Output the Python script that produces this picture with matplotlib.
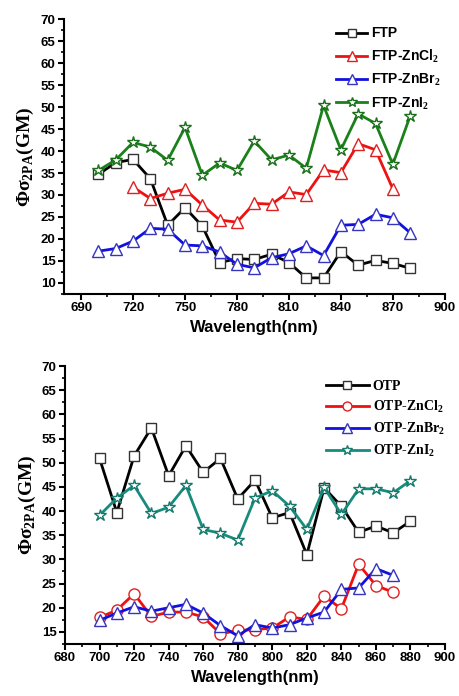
import matplotlib

matplotlib.use("Agg")
import matplotlib.pyplot as plt
from matplotlib.ticker import MultipleLocator

plt.rcParams["mathtext.fontset"] = "custom"
plt.rcParams["mathtext.rm"] = "Liberation Serif"
plt.rcParams["mathtext.bf"] = "Liberation Serif:bold"
plt.rcParams["font.family"] = "Liberation Sans"
plt.rcParams["font.weight"] = "bold"

wl_ftp = [700, 710, 720, 730, 740, 750, 760, 770, 780, 790, 800, 810, 820, 830, 840, 850, 860, 870, 880]
ftp = [34.7, 37.4, 38.1, 33.7, 23.1, 27.1, 22.9, 14.6, 15.5, 15.3, 16.5, 14.6, 11.1, 11.1, 17.1, 14.0, 15.1, 14.4, 13.3]
wl_ftp_cl = [720, 730, 740, 750, 760, 770, 780, 790, 800, 810, 820, 830, 840, 850, 860, 870]
ftp_cl = [31.8, 29.2, 30.4, 31.3, 27.7, 24.3, 23.8, 28.1, 27.9, 30.7, 30.1, 35.7, 35.1, 41.7, 40.3, 31.4]
ftp_br = [17.2, 17.8, 19.5, 22.4, 22.2, 18.6, 18.4, 17.0, 14.2, 13.4, 15.7, 16.6, 18.4, 16.2, 23.1, 23.3, 25.6, 24.8, 21.4]
ftp_i = [35.6, 38.0, 42.0, 40.9, 37.9, 45.4, 34.5, 37.3, 35.6, 42.3, 38.0, 39.1, 36.1, 50.4, 40.3, 48.5, 46.3, 37.0, 48.0]

wl_otp = [700, 710, 720, 730, 740, 750, 760, 770, 780, 790, 800, 810, 820, 830, 840, 850, 860, 870, 880]
otp = [50.9, 39.7, 51.4, 57.2, 47.3, 53.5, 48.0, 50.9, 42.5, 46.4, 38.6, 39.7, 31.0, 44.8, 41.0, 35.6, 36.9, 35.5, 37.9]
wl_otp_zn = [700, 710, 720, 730, 740, 750, 760, 770, 780, 790, 800, 810, 820, 830, 840, 850, 860, 870]
otp_cl = [18.0, 19.5, 22.9, 18.2, 19.1, 19.1, 18.1, 14.6, 15.3, 15.5, 15.8, 18.1, 17.6, 22.4, 19.8, 29.0, 24.6, 23.2]
otp_br = [17.4, 18.9, 20.2, 19.3, 20.0, 20.7, 18.9, 16.3, 14.2, 16.5, 15.8, 16.5, 17.9, 19.1, 23.8, 24.1, 28.1, 26.7]
otp_i = [39.1, 42.7, 45.3, 39.5, 40.8, 45.3, 36.2, 35.4, 34.0, 42.7, 44.2, 41.0, 36.2, 44.9, 39.3, 44.6, 44.6, 43.8, 46.3]

YLABEL = "Φσ$_{\\mathbf{2PA}}$(GM)"


def style_axes(ax, ymin, xmajor, xminor):
    ax.spines["top"].set_visible(False)
    ax.spines["right"].set_visible(False)
    for side in ("left", "bottom"):
        ax.spines[side].set_linewidth(1.5)
    ax.set_xlim(680, 900)
    ax.set_ylim(ymin, 70)
    ax.xaxis.set_major_locator(MultipleLocator(xmajor))
    ax.xaxis.set_minor_locator(MultipleLocator(xminor))
    ax.yaxis.set_major_locator(MultipleLocator(5))
    ax.yaxis.set_minor_locator(MultipleLocator(2.5))
    ax.tick_params(which="major", direction="out", length=4, width=1.5, labelsize=9.5, pad=2)
    ax.tick_params(which="minor", direction="out", length=2.5, width=1.2)
    for lab in ax.get_xticklabels() + ax.get_yticklabels():
        lab.set_fontweight("bold")
    ax.set_xlabel("Wavelength(nm)", fontsize=12, fontweight="bold", labelpad=4)
    ax.set_ylabel(YLABEL, fontsize=14, fontweight="bold", family="Liberation Serif", labelpad=3)


fig = plt.figure(figsize=(4.59, 6.96), dpi=100)
ax0 = fig.add_axes([0.139, 0.578, 0.830, 0.394])
ax1 = fig.add_axes([0.1416, 0.0747, 0.828, 0.3994])

common = dict(linewidth=2, markerfacecolor="white", markeredgewidth=1.0)
ax0.plot(wl_ftp, ftp, color="black", marker="s", markersize=7, markeredgecolor="#333333", label="FTP", **common)
ax0.plot(wl_ftp_cl, ftp_cl, color="#ee1111", marker="^", markersize=9, markeredgecolor="#e02020", label="FTP-ZnCl$_\\mathbf{2}$", **common)
ax0.plot(wl_ftp, ftp_br, color="#1010e0", marker="^", markersize=9, markeredgecolor="#3535c0", label="FTP-ZnBr$_\\mathbf{2}$", **common)
ax0.plot(wl_ftp, ftp_i, color="#1a801a", marker="*", markersize=9, markeredgecolor="#1a701a", label="FTP-ZnI$_\\mathbf{2}$", **common)
style_axes(ax0, 7.5, 30, 15)
ax0.legend(loc="upper left", bbox_to_anchor=(0.69, 1.01), frameon=False, handlelength=2.2,
           handletextpad=0.3, labelspacing=0.5, borderpad=0.2, markerscale=0.85,
           prop={"family": "Liberation Sans", "weight": "bold", "size": 10})

ax1.plot(wl_otp, otp, color="black", marker="s", markersize=7, markeredgecolor="#333333", label="OTP", **common)
ax1.plot(wl_otp_zn, otp_cl, color="#ee1111", marker="o", markersize=8, markeredgecolor="#e02020", label="OTP-ZnCl$_\\mathbf{2}$", **common)
ax1.plot(wl_otp_zn, otp_br, color="#1010e0", marker="^", markersize=9, markeredgecolor="#3535c0", label="OTP-ZnBr$_\\mathbf{2}$", **common)
ax1.plot(wl_otp, otp_i, color="#178c7c", marker="*", markersize=9, markeredgecolor="#157a6c", label="OTP-ZnI$_\\mathbf{2}$", **common)
style_axes(ax1, 12.5, 20, 10)
ax1.legend(loc="upper left", bbox_to_anchor=(0.66, 0.985), frameon=False, handlelength=3.1,
           handletextpad=0.3, labelspacing=0.4, borderpad=0.2, markerscale=0.8,
           prop={"family": "Liberation Serif", "weight": "bold", "size": 10})

fig.savefig("out.png", dpi=100, facecolor="white")
